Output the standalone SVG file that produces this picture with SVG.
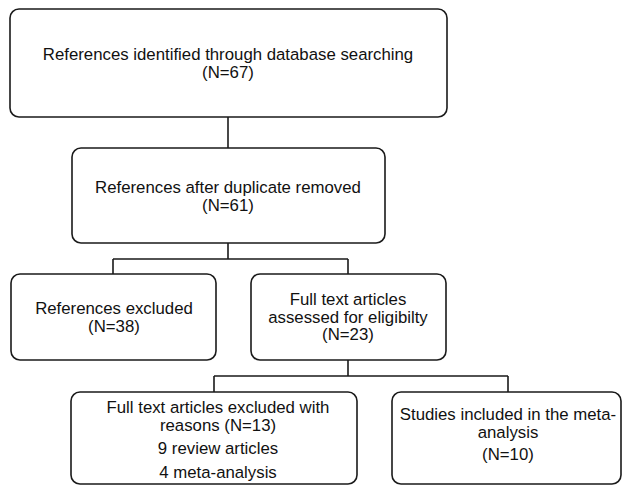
<svg xmlns="http://www.w3.org/2000/svg" width="624" height="486" viewBox="0 0 624 486">
<style>
.box{fill:#fff;stroke:#1a1a1a;stroke-width:1.6}
.conn{fill:none;stroke:#1a1a1a;stroke-width:1.6}
text{font-family:"Liberation Sans",Arial,sans-serif;font-size:16.8px;fill:#111;text-anchor:middle}
</style>
<rect width="624" height="486" fill="#fff"/>
<g id="connectors">
<path class="conn" d="M228 117V148"/>
<path class="conn" d="M228 243V259M113 259H348M113 259V274M348 259V274"/>
<path class="conn" d="M348 360V376M214 376H508M214 376V392M508 376V392"/>
</g>
<g id="n1">
<rect class="box" x="10" y="9" width="437" height="108" rx="9"/>
<text x="228" y="59.5">References identified through database searching</text>
<text x="228" y="77.5">(N=67)</text>
</g>
<g id="n2">
<rect class="box" x="72" y="148" width="313" height="95" rx="9"/>
<text x="228" y="192.5">References after duplicate removed</text>
<text x="228" y="210.5">(N=61)</text>
</g>
<g id="n3">
<rect class="box" x="11" y="274" width="205" height="86" rx="9"/>
<text x="114" y="314">References excluded</text>
<text x="114" y="331.5">(N=38)</text>
</g>
<g id="n4">
<rect class="box" x="251" y="274" width="195" height="86" rx="9"/>
<text x="348" y="305">Full text articles</text>
<text x="348" y="322.5">assessed for eligibilty</text>
<text x="348" y="340">(N=23)</text>
</g>
<g id="n5">
<rect class="box" x="71" y="392" width="286" height="92" rx="9"/>
<text x="218" y="413">Full text articles excluded with</text>
<text x="218" y="430.5">reasons (N=13)</text>
<text x="218" y="454">9 review articles</text>
<text x="218" y="478">4 meta-analysis</text>
</g>
<g id="n6">
<rect class="box" x="392" y="392" width="229" height="92" rx="9"/>
<text x="508" y="420">Studies included in the meta-</text>
<text x="508" y="437.5">analysis</text>
<text x="508" y="460">(N=10)</text>
</g>
</svg>
